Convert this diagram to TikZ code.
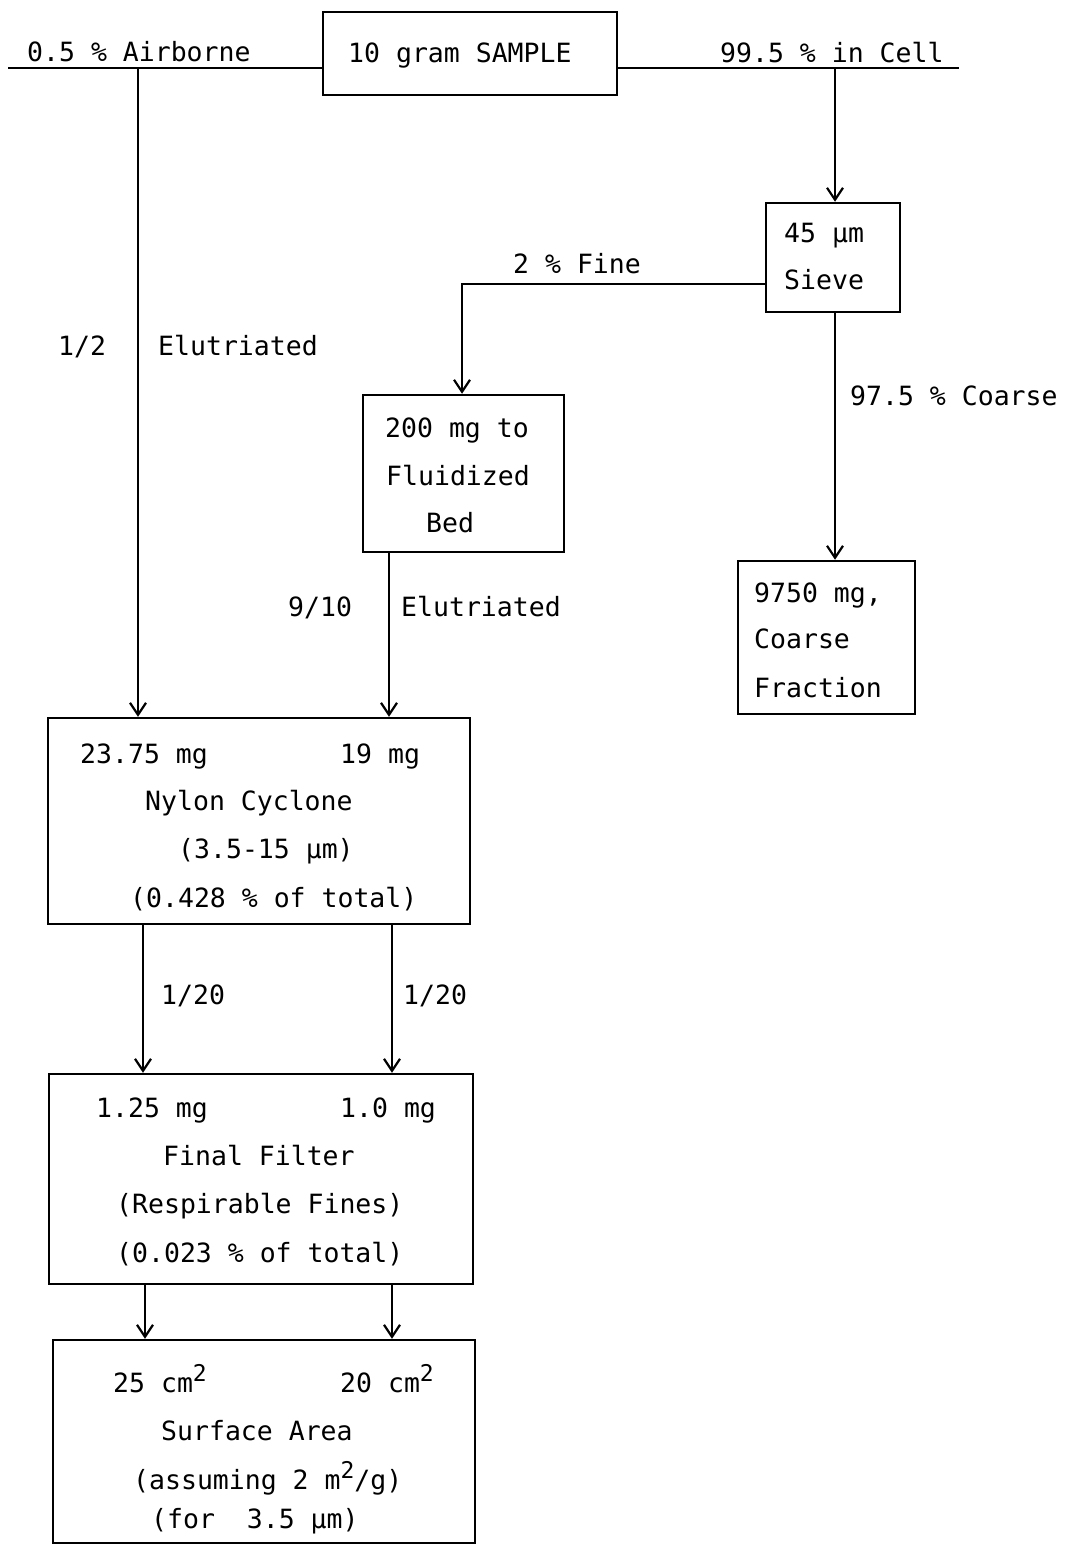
\documentclass[tikz,border=0pt]{standalone}
\usepackage{fontspec}
\setmainfont{DejaVu Sans Mono}
\usetikzlibrary{arrows.meta}
\newcommand\mysup[1]{\raisebox{11pt}{\fontsize{23}{23}\selectfont #1}}
\begin{document}
\begin{tikzpicture}[x=1pt,y=-1pt,
  box/.style={draw, line width=2.5pt, rectangle, inner sep=0pt},
  txt/.style={anchor=base west, inner sep=0pt, font=\fontsize{26.5}{30}\selectfont},
  ln/.style={line width=2.3pt},
  arr/.style={line width=2.3pt, -{Straight Barb[length=12pt,width=16pt,line width=2.2pt]}}]
\useasboundingbox (0,0) rectangle (1068,1547);

% boxes
\node[box, minimum width=294pt, minimum height=83pt] (sample) at (470,53.5) {};
\node[box, minimum width=134pt, minimum height=109pt] (sieve) at (833,257.5) {};
\node[box, minimum width=201pt, minimum height=157pt] (bed) at (463.5,473.5) {};
\node[box, minimum width=177pt, minimum height=153pt] (coarse) at (826.5,637.5) {};
\node[box, minimum width=422pt, minimum height=206pt] (cyc) at (259,821) {};
\node[box, minimum width=424pt, minimum height=210pt] (filt) at (261,1179) {};
\node[box, minimum width=422pt, minimum height=203pt] (surf) at (264,1441.5) {};

% coordinates
\coordinate (lend) at (8,68);
\coordinate (rend) at (959,68);
\coordinate (air) at (138,68);
\coordinate (cell) at (835,68);
\coordinate (fj) at (462,284);
\coordinate (bedx) at (389,0);
\coordinate (lx) at (143,0);
\coordinate (lx2) at (145,0);
\coordinate (rx) at (392,0);

% connectors
\draw[ln] (lend) -- (sample.west |- lend);
\draw[ln] (sample.east |- rend) -- (rend);
\draw[arr] (air) -- (cyc.north -| air);
\draw[arr] (cell) -- (sieve.north -| cell);
\draw[arr] (sieve.west |- fj) -- (fj) -- (bed.north -| fj);
\draw[arr] (sieve.south -| cell) -- (coarse.north -| cell);
\draw[arr] (bed.south -| bedx) -- (cyc.north -| bedx);
\draw[arr] (cyc.south -| lx) -- (filt.north -| lx);
\draw[arr] (cyc.south -| rx) -- (filt.north -| rx);
\draw[arr] (filt.south -| lx2) -- (surf.north -| lx2);
\draw[arr] (filt.south -| rx) -- (surf.north -| rx);

% labels on lines
\node[txt] (tAir) at (27,61) {0.5 \% Airborne};
\node[txt] (tSample) at (348,62) {10 gram SAMPLE};
\node[txt] (tCell) at (720,62) {99.5 \% in Cell};
\node[txt] (tFine) at (513,273) {2 \% Fine};
\node[txt] (tHalf) at (58,355) {1/2};
\node[txt] (tElu1) at (158,355) {Elutriated};
\node[txt] (tCoarse) at (850,405) {97.5 \% Coarse};
\node[txt] (tNine) at (288,616) {9/10};
\node[txt] (tElu2) at (401,616) {Elutriated};
\node[txt] (tTw1) at (161,1004) {1/20};
\node[txt] (tTw2) at (403,1004) {1/20};

% sieve
\node[txt] (s1) at (784,242) {45 µm};
\node[txt] (s2) at (784,289) {Sieve};
% bed
\node[txt] (b1) at (385,437) {200 mg to};
\node[txt] (b2) at (386,485) {Fluidized};
\node[txt] (b3) at (426,532) {Bed};
% coarse
\node[txt] (c1) at (754,602) {9750 mg,};
\node[txt] (c2) at (754,648) {Coarse};
\node[txt] (c3) at (754,697) {Fraction};
% cyclone
\node[txt] (y1) at (80,763) {23.75 mg};
\node[txt] (y2) at (340,763) {19 mg};
\node[txt] (y3) at (145,810) {Nylon Cyclone};
\node[txt] (y4) at (178,858) {(3.5-15 µm)};
\node[txt] (y5) at (130,907) {(0.428 \% of total)};
% filter
\node[txt] (f1) at (96,1117) {1.25 mg};
\node[txt] (f2) at (340,1117) {1.0 mg};
\node[txt] (f3) at (163,1165) {Final Filter};
\node[txt] (f4) at (116,1213) {(Respirable Fines)};
\node[txt] (f5) at (116,1262) {(0.023 \% of total)};
% surface
\node[txt] (a1) at (113,1392) {25 cm\mysup{2}};
\node[txt] (a2) at (340,1392) {20 cm\mysup{2}};
\node[txt] (a3) at (161,1440) {Surface Area};
\node[txt] (a4) at (133,1489) {(assuming 2 m\mysup{2}/g)};
\node[txt] (a5) at (151,1528) {(for\ \ 3.5 µm)};
\end{tikzpicture}
\end{document}
